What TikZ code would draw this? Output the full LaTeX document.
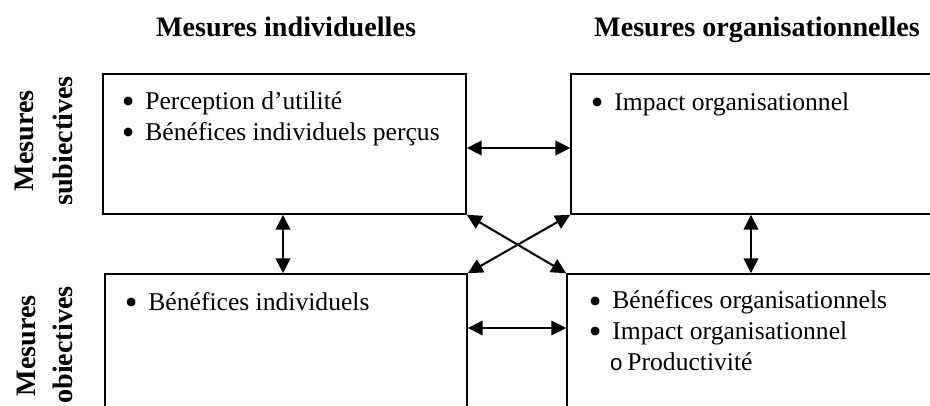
\documentclass[tikz,border=0pt]{standalone}
\usepackage{fontspec}
\setmainfont{Liberation Serif}
\newfontfamily\monofnt{Liberation Mono}
\usetikzlibrary{arrows.meta,fit}
\newcommand{\bulitem}{\makebox[11pt][l]{\raisebox{-2.1pt}{\fontsize{17pt}{0pt}\selectfont •}}}
\newcommand{\subbulitem}{\hspace*{9.75pt}\makebox[8.3pt][l]{\fontsize{10.5pt}{0pt}\monofnt o}}
\begin{document}
\begin{tikzpicture}[x=0.46875pt,y=-0.46875pt,
  box/.style={draw, line width=0.7pt, inner sep=0pt},
  list/.style={anchor=base west, inner sep=0pt, align=left, font=\fontsize{12pt}{14.3pt}\selectfont},
  head/.style={anchor=base, inner sep=0pt, font=\fontsize{13.2pt}{16pt}\selectfont\bfseries},
  side/.style={anchor=base, inner sep=0pt, rotate=90, font=\fontsize{13.2pt}{16pt}\selectfont\bfseries},
  arr/.style={{Triangle[length=7pt,width=6.8pt]}-{Triangle[length=7pt,width=6.8pt]}, line width=0.95pt},
]
\useasboundingbox (0,0) rectangle (930,406);
\clip (0,0) rectangle (930,406);

% headings
\node[head] (h1) at (286,37) {Mesures individuelles};
\node[head] (h2) at (757,37) {Mesures organisationnelles};

% side labels
\node[side] (s1a) at (33,141) {Mesures};
\node[side] (s1b) at (72,141) {subiectives};
\node[side] (s2a) at (35,346) {Mesures};
\node[side] (s2b) at (72,345) {obiectives};

% boxes
\node[box, fit={(103,74) (466,214)}] (tl) {};
\node[box, fit={(571,74) (980,214)}] (tr) {};
\node[box, fit={(105,274) (467,440)}] (bl) {};
\node[box, fit={(567,274) (980,440)}] (br) {};

% box contents (anchor base = baseline of the last line)
\node[list] (l1) at (121.5,140) {\bulitem Perception d’utilité\\\bulitem Bénéfices individuels perçus};
\node[list] (l2) at (590.5,110) {\bulitem Impact organisationnel};
\node[list] (l3) at (124.5,310) {\bulitem Bénéfices individuels};
\node[list] (l4) at (588.5,370) {\bulitem Bénéfices organisationnels\\\bulitem Impact organisationnel\\\subbulitem Productivité};

% connectors
\coordinate (ht) at (0,148);
\coordinate (hb) at (0,328);
\coordinate (vl) at (283,0);
\coordinate (vr) at (751,0);
\draw[arr] (tl.east |- ht) -- (tr.west |- ht);
\draw[arr] (bl.east |- hb) -- (br.west |- hb);
\draw[arr] (tl.south -| vl) -- (bl.north -| vl);
\draw[arr] (tr.south -| vr) -- (br.north -| vr);
\draw[arr] (tl.south east) -- (br.north west);
\draw[arr] (tr.south west) -- (bl.north east);
\end{tikzpicture}
\end{document}
